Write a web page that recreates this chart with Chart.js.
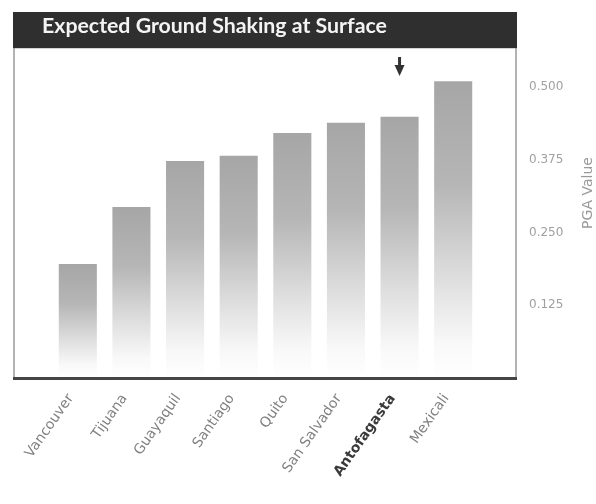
<!DOCTYPE html>
<html>
<head>
<meta charset="utf-8">
<script src="https://cdn.jsdelivr.net/npm/chart.js@4.4.1/dist/chart.umd.min.js"></script>
<style>
  html, body { margin: 0; padding: 0; background: #ffffff; }
  #wrap { width: 596px; height: 504px; position: relative; }
</style>
</head>
<body>
<div id="wrap"><canvas id="c" width="596" height="504"></canvas></div>
<script>
// Peak ground acceleration expected at the surface, by city
const cities = ['Vancouver', 'Tijuana', 'Guayaquil', 'Santiago', 'Quito', 'San Salvador', 'Antofagasta', 'Mexicali'];
const pgaValues = [0.196, 0.294, 0.373, 0.382, 0.421, 0.439, 0.449, 0.510];
const pgaTicks = [0.125, 0.250, 0.375, 0.500];
const highlightCity = 'Antofagasta';
const chartTitle = 'Expected Ground Shaking at Surface';
const axisTitle = 'PGA Value';

const FONT = '"DejaVu Sans", Lato, sans-serif';
const TITLE_FONT = 'Lato, "DejaVu Sans", sans-serif';

// Vertical fade on each bar: grey at the top, white toward the baseline
function barFill(ctx) {
  const chart = ctx.chart;
  if (!chart.chartArea || ctx.raw === undefined) return '#aaaaaa';
  const y = chart.scales.y;
  const top = y.getPixelForValue(ctx.raw);
  const bottom = y.getPixelForValue(0);
  const g = chart.ctx.createLinearGradient(0, top, 0, bottom);
  g.addColorStop(0, '#a6a6a6');
  g.addColorStop(0.35, '#b6b6b6');
  g.addColorStop(0.68, '#e0e0e0');
  g.addColorStop(0.88, '#f8f8f8');
  g.addColorStop(1, '#ffffff');
  return g;
}

// Frame, title band, axis title and pointer marker
const framePlugin = {
  id: 'frame',
  beforeDatasetsDraw(chart) {
    const c = chart.ctx;
    const a = chart.chartArea;
    const L = 14, R = 516;
    c.save();
    c.strokeStyle = '#9a9a9a';
    c.lineWidth = 1.5;
    c.beginPath();
    c.moveTo(L, a.top); c.lineTo(L, a.bottom);
    c.moveTo(R, a.top); c.lineTo(R, a.bottom);
    c.stroke();
    c.restore();
  },
  afterDatasetsDraw(chart) {
    const c = chart.ctx;
    const a = chart.chartArea;
    const L = 13, R = 517;
    c.save();
    // baseline rule
    c.strokeStyle = '#454545';
    c.lineWidth = 3;
    c.beginPath();
    c.moveTo(L, a.bottom + 0.5); c.lineTo(R, a.bottom + 0.5);
    c.stroke();
    // title band
    c.fillStyle = '#2f2f2f';
    c.fillRect(L, 12, R - L, a.top - 12);
    c.fillStyle = '#f4f4f4';
    c.textBaseline = 'alphabetic';
    c.textAlign = 'left';
    let size = 16;
    c.font = 'bold ' + size + 'px ' + TITLE_FONT;
    const w = c.measureText(chartTitle).width;
    size = size * 345 / w;
    c.font = 'bold ' + size.toFixed(2) + 'px ' + TITLE_FONT;
    c.fillText(chartTitle, 42, 33);
    // axis title, reading upward
    c.translate(588, 193);
    c.rotate(-Math.PI / 2);
    c.fillStyle = '#9a9a9a';
    c.font = '14px ' + FONT;
    c.textAlign = 'center';
    c.textBaseline = 'middle';
    c.fillText(axisTitle, 0, 0);
    c.restore();
    // pointer above the highlighted city
    const x = chart.scales.x.getPixelForValue(cities.indexOf(highlightCity));
    c.save();
    c.fillStyle = '#333333';
    c.fillRect(x - 1.5, 57, 3, 10);
    c.beginPath();
    c.moveTo(x - 5, 65); c.lineTo(x + 5, 65); c.lineTo(x, 76); c.closePath();
    c.fill();
    c.restore();
  }
};

new Chart(document.getElementById('c'), {
  type: 'bar',
  data: {
    labels: cities,
    datasets: [{
      data: pgaValues,
      backgroundColor: barFill,
      borderWidth: 0,
      barPercentage: 0.71,
      categoryPercentage: 1.0
    }]
  },
  options: {
    responsive: false,
    animation: false,
    layout: { padding: { left: 51, top: 42, right: 0, bottom: 0 } },
    plugins: { legend: { display: false }, tooltip: { enabled: false }, title: { display: false } },
    scales: {
      x: {
        grid: { display: false },
        border: { display: false },
        ticks: {
          minRotation: 55, maxRotation: 55,
          padding: 5,
          labelOffset: -7,
          color: (ctx) => cities[ctx.index] === highlightCity ? '#3a3a3a' : '#808080',
          font: (ctx) => ({ family: FONT, size: 14, weight: cities[ctx.index] === highlightCity ? 'bold' : 'normal' })
        },
        afterFit: (s) => { s.height = 126; }
      },
      y: {
        position: 'right',
        min: 0,
        max: 0.567,
        grid: { display: false },
        border: { display: false },
        afterBuildTicks: (s) => { s.ticks = pgaTicks.map(v => ({ value: v })); },
        ticks: {
          padding: 41,
          color: '#a0a0a0',
          font: { family: FONT, size: 12 },
          callback: (v) => Number(v).toFixed(3)
        },
        afterFit: (s) => { s.width = 116; }
      }
    }
  },
  plugins: [framePlugin]
});
</script>
</body>
</html>
